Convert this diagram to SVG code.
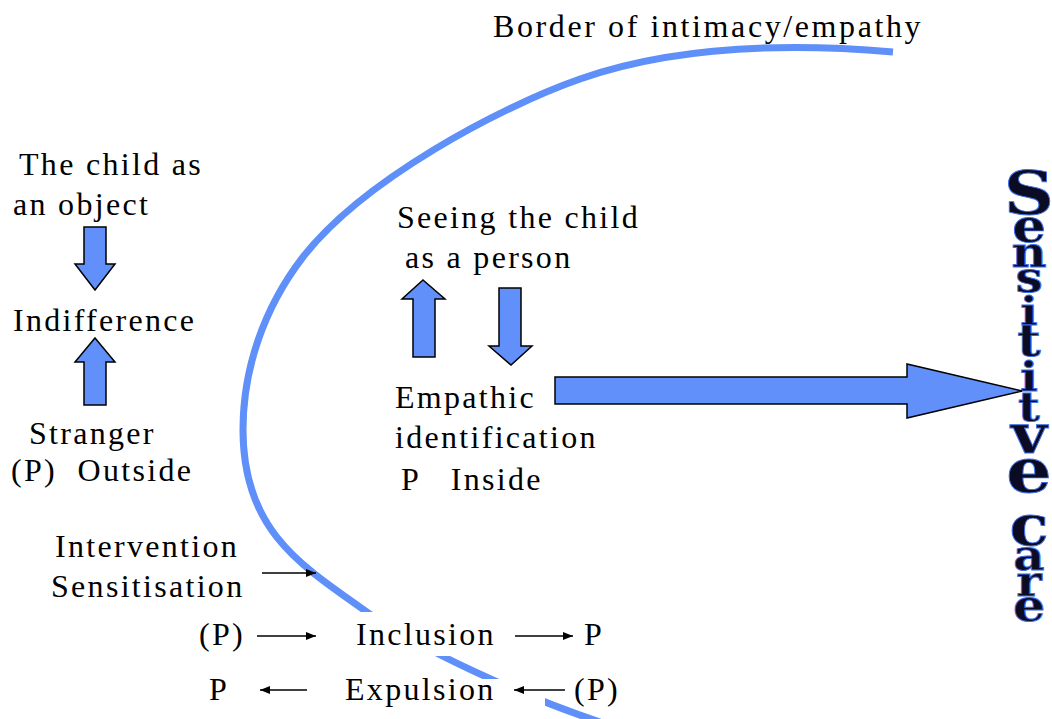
<svg xmlns="http://www.w3.org/2000/svg" width="1052" height="719" viewBox="0 0 1052 719">
  <defs>
    <style>
      .lbl { font-family: "Liberation Serif", "Times New Roman", serif; font-size: 32px; letter-spacing: 2.3px; fill: #000; white-space: pre; }
      .title { letter-spacing: 2.6px; }
      .block { fill: #6190fb; stroke: #000; stroke-width: 1.5; stroke-linejoin: miter; }
      .border { fill: none; stroke: #5f8ff8; stroke-width: 7; stroke-linecap: butt; }
      .thin { stroke: #000; stroke-width: 1.6; fill: none; }
      .vert { font-family: "DejaVu Serif", "Liberation Serif", serif; font-weight: bold; fill: #0b0b24; stroke: #3d6fe6; stroke-width: 0.9; writing-mode: vertical-rl; text-orientation: upright; white-space: pre; }
      .mask { fill: #fff; }
    </style>
    <marker id="ah" viewBox="0 0 10 8" refX="10" refY="4" markerWidth="10" markerHeight="8" markerUnits="userSpaceOnUse" orient="auto">
      <path d="M0 0 L10 4 L0 8 Z" fill="#000"/>
    </marker>
  </defs>

  <rect width="1052" height="719" fill="#fff"/>

  <!-- border of intimacy / empathy curve -->
  <g id="border-curve">
    <path class="border" d="M 893 52 C 800 44, 680 44, 580 79 C 500 107, 363 180, 303 257 C 263 309, 243 370, 243 430 C 243 530, 300 565, 367 612 C 420 650, 525 697, 600 722"/>
    <!-- label backgrounds that break the curve -->
    <rect class="mask" x="335" y="612" width="175" height="44"/>
    <rect class="mask" x="335" y="679" width="210" height="27"/>
  </g>

  <g id="title">
    <text class="lbl title" x="493" y="37">Border of intimacy/empathy</text>
  </g>

  <g id="child-object">
    <text class="lbl" x="19" y="175">The child as</text>
    <text class="lbl" x="13" y="215">an object</text>
  </g>
  <g id="indifference">
    <text class="lbl" x="13" y="331">Indifference</text>
  </g>
  <g id="stranger">
    <text class="lbl" x="29" y="444">Stranger</text>
    <text class="lbl" x="11" y="481">(P)  Outside</text>
  </g>

  <g id="child-person">
    <text class="lbl" x="397" y="228">Seeing the child</text>
    <text class="lbl" x="405" y="268">as a person</text>
  </g>
  <g id="empathic">
    <text class="lbl" x="395" y="408">Empathic</text>
    <text class="lbl" x="395" y="448">identification</text>
    <text class="lbl" x="401" y="490">P   Inside</text>
  </g>

  <g id="intervention">
    <text class="lbl" x="55" y="557">Intervention</text>
    <text class="lbl" x="51" y="597">Sensitisation</text>
  </g>

  <g id="inclusion-row">
    <text class="lbl" x="199" y="645">(P)</text>
    <text class="lbl" x="356" y="645">Inclusion</text>
    <text class="lbl" x="584" y="645">P</text>
  </g>
  <g id="expulsion-row">
    <text class="lbl" x="209" y="700">P</text>
    <text class="lbl" x="345" y="700">Expulsion</text>
    <text class="lbl" x="574" y="700">(P)</text>
  </g>

  <!-- stacked vertical lettering, slightly widened, one glyph size per letter -->
  <g id="sensitive-care">
    <text class="vert" x="0" y="157.5" transform="translate(1029 0) scale(1.15 1)"><tspan font-size="60" letter-spacing="-30.1">S</tspan><tspan font-size="46" letter-spacing="-24.8">e</tspan><tspan font-size="42" letter-spacing="-23.9">n</tspan><tspan font-size="42" letter-spacing="-15">s</tspan><tspan font-size="40" letter-spacing="-19.3">i</tspan><tspan font-size="44" letter-spacing="-13.4">t</tspan><tspan font-size="41" letter-spacing="-17.7">i</tspan><tspan font-size="41" letter-spacing="-28.8">t</tspan><tspan font-size="54" letter-spacing="-32.3">v</tspan><tspan font-size="62" letter-spacing="-40">e</tspan><tspan font-size="40" letter-spacing="-20.3"> </tspan><tspan font-size="56" letter-spacing="-27.2">c</tspan><tspan font-size="42" letter-spacing="-23.9">a</tspan><tspan font-size="42" letter-spacing="-25.7">r</tspan><tspan font-size="44">e</tspan></text>
  </g>

  <g id="connectors">
    <!-- block arrows -->
    <path class="block" d="M84 227 H106 V264 H115 L95 290 L75 264 H84 Z"/>
    <path class="block" d="M95 338 L115 362 H106 V405 H84 V362 H75 Z"/>
    <path class="block" d="M423 280 L445 299 H435 V357 H413 V299 H402 Z"/>
    <path class="block" d="M499 288 H521 V346 H532 L511 365 L489 346 H499 Z"/>
    <path class="block" d="M555 377 H907 V364 L1022 391 L907 418 V404 H555 Z"/>
    <!-- line arrows -->
    <line class="thin" x1="262" y1="573" x2="316" y2="573" marker-end="url(#ah)"/>
    <line class="thin" x1="257" y1="636" x2="316" y2="636" marker-end="url(#ah)"/>
    <line class="thin" x1="515" y1="636" x2="573" y2="636" marker-end="url(#ah)"/>
    <line class="thin" x1="307" y1="690" x2="260" y2="690" marker-end="url(#ah)"/>
    <line class="thin" x1="565" y1="690" x2="514" y2="690" marker-end="url(#ah)"/>
  </g>
</svg>
